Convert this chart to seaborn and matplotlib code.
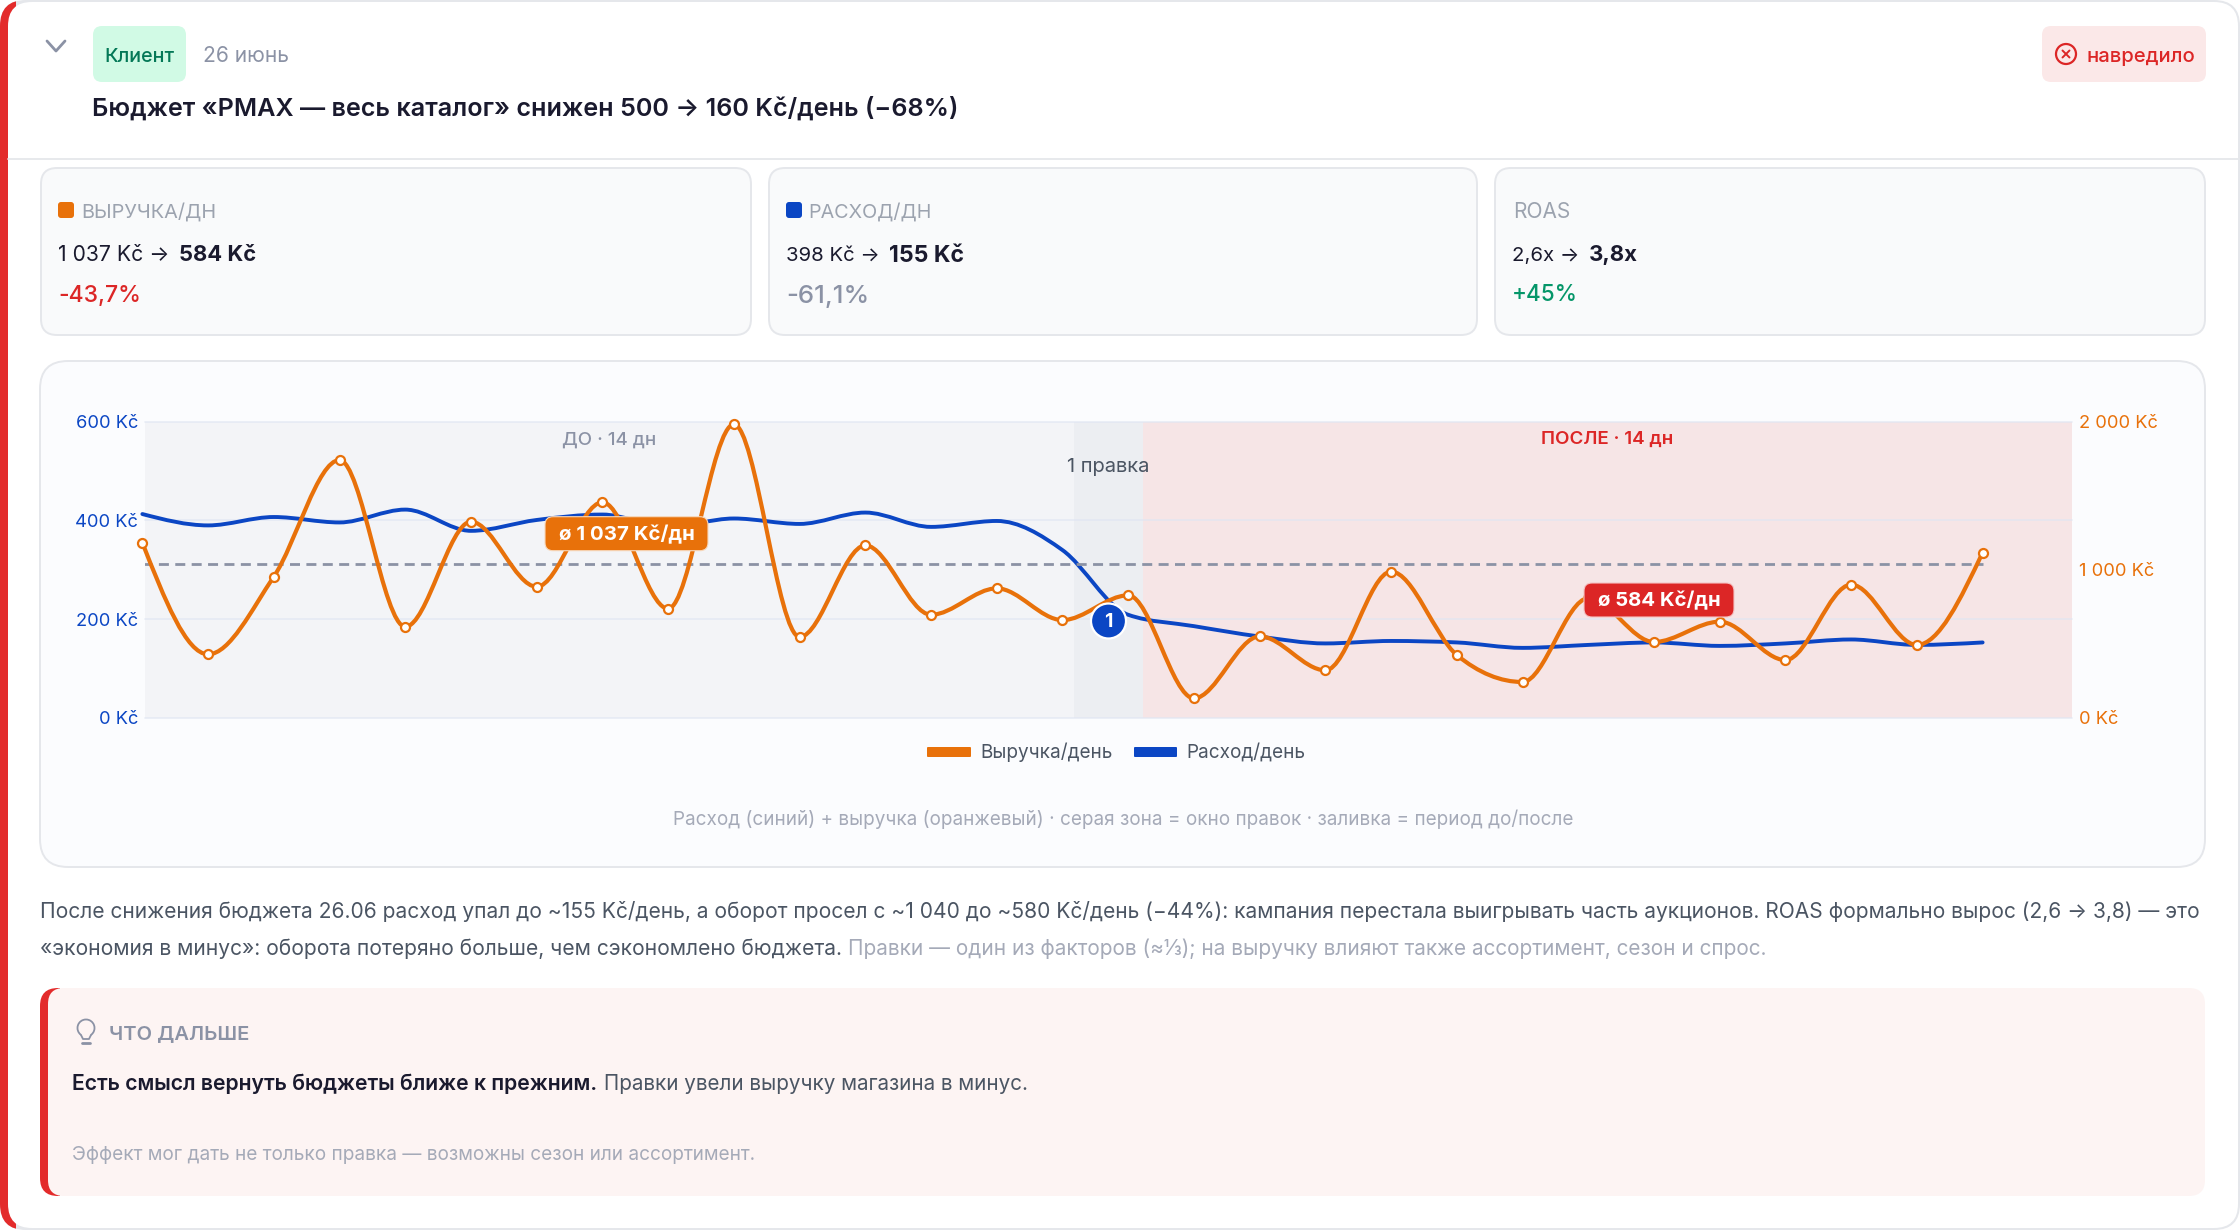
import numpy as np
import matplotlib
matplotlib.use("Agg")
import matplotlib.pyplot as plt
from matplotlib.patches import FancyBboxPatch, Circle, Rectangle, PathPatch, Arc
from matplotlib.path import Path
import pandas as pd
import seaborn as sns

W, H = 2240, 1230
revenue = [1183, 430, 954, 1741, 616, 1325, 886, 1456, 738, 1982, 547, 1165, 697, 875, 661,
           828, 133, 551, 322, 988, 425, 243, 808, 513, 650, 391, 900, 493, 1116]
spend = [413, 390, 407, 396, 422, 379, 401, 412, 387, 404, 393, 416, 387, 399, 340,
         209, 186, 165, 151, 156, 153, 142, 148, 153, 146, 151, 159, 148, 153]
days = list(range(len(revenue)))
avg_before = 1037
left_ticks = [0, 200, 400, 600]
right_ticks = [0, 1000, 2000]
left_labels = ["0 Kč", "200 Kč", "400 Kč", "600 Kč"]
right_labels = ["0 Kč", "1 000 Kč", "2 000 Kč"]
zone_before = (0.04, 14.18)
zone_edit = (14.18, 15.22)
zone_after = (15.22, 29.36)

ORANGE, BLUE, RED, GREEN = "#e8710a", "#0b46c4", "#dc2626", "#059669"
INK, BODY, MUTED, FAINT = "#1a1a2e", "#4b5563", "#8b92a5", "#a5aab8"
BORDER = "#e5e7eb"

sns.set_theme(style="white")
plt.rcParams["font.family"] = ["Inter", "Noto Sans", "DejaVu Sans"]

fig = plt.figure(figsize=(W / 100, H / 100), dpi=100, facecolor="white")
renderer = fig.canvas.get_renderer()


def pixel_axes(z):
    a = fig.add_axes([0, 0, 1, 1], zorder=z)
    a.set_xlim(0, W)
    a.set_ylim(H, 0)
    a.axis("off")
    a.patch.set_alpha(0)
    return a


back = pixel_axes(0)
top = pixel_axes(5)


def rrect(a, x0, y0, x1, y1, r, fc, ec="none", lw=0, z=1, clip=None):
    p = FancyBboxPatch((x0 + r, y0 + r), x1 - x0 - 2 * r, y1 - y0 - 2 * r,
                       boxstyle=f"round,pad={r},rounding_size={r}", fc=fc, ec=ec, lw=lw,
                       zorder=z, mutation_aspect=1)
    a.add_patch(p)
    if clip is not None:
        p.set_clip_path(Rectangle((clip[0], clip[1]), clip[2], clip[3], transform=a.transData))
    return p


def label(x, cy, s, color, x1=None, size=14, weight="normal", ha="left", z=10, a=None):
    a = a or top
    t = a.text(x, cy, s, color=color, fontsize=size, fontweight=weight, ha=ha, va="baseline", zorder=z)
    if x1 is not None:
        bb = t.get_window_extent(renderer)
        size = size * (x1 - x) / bb.width
        t.set_fontsize(size)
    t.set_y(cy + 0.33 * size * 100 / 72)
    return t


# outer card
rrect(back, 0, 0, W, H, 26, BORDER, z=1)
rrect(back, 0, 0, W, H, 26, "#e32b2b", z=2, clip=(0, 0, 16, H))
rrect(back, 8, 2, W - 2, H - 2, 24, "white", z=3)

# header
back.plot([47, 56, 65], [41, 51, 41], color=MUTED, lw=2, solid_capstyle="round", zorder=5)
rrect(back, 93, 26, 186, 82, 9, "#d1fae5", z=5)
label(104, 55, "Клиент", "#047857", x1=174, weight="medium")
label(203, 55, "26 июнь", MUTED, x1=289)
label(92, 107, "Бюджет «PMAX — весь каталог» снижен 500 → 160 Kč/день (−68%)", INK, x1=958, weight="semibold")
rrect(back, 2042, 26, 2206, 82, 9, "#fbe8e8", z=5)
back.add_patch(Circle((2066, 54), 10, fc="none", ec=RED, lw=1.6, zorder=6))
back.plot([2062.5, 2069.5], [50.5, 57.5], color=RED, lw=1.4, zorder=6)
back.plot([2062.5, 2069.5], [57.5, 50.5], color=RED, lw=1.4, zorder=6)
label(2086, 55, "навредило", RED, x1=2194, weight="medium")
back.plot([8, W - 2], [159, 159], color=BORDER, lw=1.3, zorder=5)

# KPI cards
cards = [
    (41, 751, "ВЫРУЧКА/ДН", ORANGE, "1 037 Kč → ", "584 Kč", "-43,7%", RED, 81, 216, 179, 256, 141),
    (769, 1477, "РАСХОД/ДН", BLUE, "398 Kč → ", "155 Kč", "-61,1%", MUTED, 808, 931, 889, 964, 869),
    (1495, 2205, "ROAS", None, "2,6x → ", "3,8x", "+45%", GREEN, 1513, 1570, 1589, 1638, 1578),
]
for x0, x1, name, swatch, before, after, delta, dcol, lx0, lx1, bx0, bx1, dx1 in cards:
    rrect(back, x0, 168, x1, 335, 16, "#f9fafb", BORDER, 1.4, z=5)
    tx = x0 + 17
    if swatch:
        rrect(back, tx, 202, tx + 16, 218, 3, swatch, z=6)
    label(lx0, 211, name, "#9ca3af", x1=lx1)
    label(tx, 254, before, INK, x1=bx0 - 4)
    label(bx0, 254, after, INK, x1=bx1, weight="bold")
    label(tx, 294, delta, dcol, x1=dx1, weight="medium")

# chart card
rrect(back, 40, 361, 2205, 867, 28, "#fbfcfe", BORDER, 1.4, z=5)
label(673, 819, "Расход (синий) + выручка (оранжевый) · серая зона = окно правок · заливка = период до/после",
      "#a5aab8", x1=1573)

# chart axes
ax = fig.add_axes([145 / W, 1 - 718 / H, (2072 - 145) / W, 296.3 / H], zorder=2)
ax.patch.set_alpha(0)
ax2 = ax.twinx()
ax2.set_zorder(3)
ax2.patch.set_alpha(0)
ax.axvspan(*zone_before, color="#f3f4f7", lw=0, zorder=0)
ax.axvspan(*zone_edit, color="#eceef2", lw=0, zorder=0)
ax.axvspan(*zone_after, color="#f6e5e6", lw=0, zorder=0)
for v in left_ticks:
    ax.axhline(v, color="#dfe5f2", alpha=0.7, lw=1.2, zorder=1, clip_on=False)


def smooth(a, color, lw, z):
    """Replace seaborn's straight segments by a monotone curve through the same data."""
    line = a.lines[-1]
    xs, ys = (np.asarray(v, float) for v in line.get_data())
    line.set_visible(False)
    sec = np.diff(ys) / np.diff(xs)
    t = np.zeros_like(ys)
    for i in range(1, len(ys) - 1):
        s0, s1 = sec[i - 1], sec[i]
        t[i] = (np.sign(s0) + np.sign(s1)) * min(abs(s0), abs(s1), 0.25 * abs(s0 + s1))
    t[0] = (3 * sec[0] - t[1]) / 2
    t[-1] = (3 * sec[-1] - t[-2]) / 2
    verts, codes = [(xs[0], ys[0])], [Path.MOVETO]
    for i in range(len(xs) - 1):
        h = (xs[i + 1] - xs[i]) / 3
        verts += [(xs[i] + h, ys[i] + h * t[i]), (xs[i + 1] - h, ys[i + 1] - h * t[i + 1]), (xs[i + 1], ys[i + 1])]
        codes += [Path.CURVE4] * 3
    a.add_patch(PathPatch(Path(verts, codes), fc="none", ec=color, lw=lw, zorder=z,
                          capstyle="round", joinstyle="round", clip_on=False))


df = pd.DataFrame({"day": days, "spend": spend, "revenue": revenue})
sns.lineplot(data=df, x="day", y="spend", ax=ax, color=BLUE, legend=False)
smooth(ax, BLUE, 2.8, 3)
ax2.plot([days[0], days[-1]], [avg_before, avg_before], color=MUTED, lw=2, dashes=(3.6, 2.3), zorder=2)
sns.lineplot(data=df, x="day", y="revenue", ax=ax2, color=ORANGE, legend=False)
smooth(ax2, ORANGE, 3.0, 3)
sns.scatterplot(data=df, x="day", y="revenue", ax=ax2, s=42, color="white", edgecolor=ORANGE,
                linewidth=1.6, zorder=4, legend=False, clip_on=False)

ax.set_xlim(zone_before[0], zone_after[1])
ax2.set_xlim(zone_before[0], zone_after[1])
ax.set_ylim(0, 600)
ax2.set_ylim(0, 2000)
ax.set_xticks([])
ax.set_xlabel("")
ax.set_ylabel("")
ax2.set_ylabel("")
ax.set_yticks(left_ticks, left_labels)
ax2.set_yticks(right_ticks, right_labels)
ax.tick_params(axis="y", length=0, pad=5, labelcolor=BLUE, labelsize=13.2)
ax2.tick_params(axis="y", length=0, pad=5, labelcolor=ORANGE, labelsize=13.2)
for a in (ax, ax2):
    for s in a.spines.values():
        s.set_visible(False)

# zone captions
label(609.6, 438, "ДО · 14 дн", MUTED, size=13.5, ha="center", weight="medium")
label(1607, 438, "ПОСЛЕ · 14 дн", RED, size=13.5, ha="center", weight="semibold")
label(1108.6, 465, "1 правка", BODY, size=14.5, ha="center")

# average pills
rrect(top, 545, 516.7, 708, 550.7, 8, ORANGE, "#f7d9bd", 0.8, z=8)
label(559, 533.5, "ø 1 037 Kč/дн", "white", x1=695, weight="bold")
rrect(top, 1584, 583, 1734, 617, 8, RED, "#f4c4c4", 0.8, z=8)
label(1598, 600, "ø 584 Kč/дн", "white", x1=1721, weight="bold")

# edit marker
top.add_patch(Circle((1108.5, 621), 17.5, fc=BLUE, ec="white", lw=1.6, zorder=8))
label(1108.5, 621, "1", "white", size=14, weight="bold", ha="center")

# legend
rrect(top, 927, 747, 971, 757, 1, ORANGE, z=8)
label(980, 751.5, "Выручка/день", BODY, x1=1112)
rrect(top, 1134, 747, 1177, 757, 1, BLUE, z=8)
label(1186, 751.5, "Расход/день", BODY, x1=1305)

# paragraph
label(40, 911, "После снижения бюджета 26.06 расход упал до ~155 Kč/день, а оборот просел с ~1 040 до ~580 Kč/день (−44%): "
      "кампания перестала выигрывать часть аукционов. ROAS формально вырос (2,6 → 3,8) — это", BODY, x1=2204)
label(40, 947.7, "«экономия в минус»: оборота потеряно больше, чем сэкономлено бюджета.", BODY, x1=843)
label(848, 947.7, "Правки — один из факторов (≈⅓); на выручку влияют также ассортимент, сезон и спрос.", FAINT, x1=1769)

# next step box
rrect(back, 40, 988, 2205, 1196, 18, "#e32b2b", z=5, clip=(40, 988, 20, 208))
rrect(back, 48, 988, 2205, 1196, 16, "#fdf4f3", z=6)
back.add_patch(Arc((86, 1028), 17, 17, theta1=125, theta2=55, ec=MUTED, lw=1.3, zorder=7))
back.plot([81, 83, 89, 91], [1035, 1039, 1039, 1035], color=MUTED, lw=1.3, zorder=7)
back.plot([82, 90], [1043, 1043], color=MUTED, lw=2, zorder=7)
label(108.6, 1032.7, "ЧТО ДАЛЬШЕ", MUTED, x1=248, weight="semibold")
label(72, 1083, "Есть смысл вернуть бюджеты ближе к прежним.", INK, x1=598.6, weight="semibold")
label(604, 1083, "Правки увели выручку магазина в минус.", BODY, x1=1028.6)
label(72, 1154, "Эффект мог дать не только правка — возможны сезон или ассортимент.", FAINT, x1=756)

fig.savefig("out.png", dpi=100, facecolor="white")
